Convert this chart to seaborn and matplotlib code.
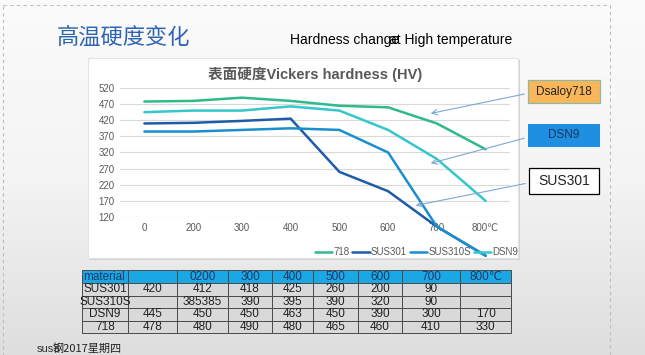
import numpy as np
import pandas as pd
import matplotlib
matplotlib.use("Agg")
import matplotlib.pyplot as plt
from matplotlib.colors import LinearSegmentedColormap
from matplotlib.patches import Rectangle
import seaborn as sns

# chart data
temps = ["0", "200", "300", "400", "500", "600", "700", "800℃"]
hv_718 = [478, 480, 490, 480, 465, 460, 410, 330]
hv_sus301 = [410, 412, 418, 425, 260, 200, 90, 0]
hv_sus310s = [385, 385, 390, 395, 390, 320, 90, 0]
hv_dsn9 = [445, 450, 450, 463, 450, 390, 300, 170]
series_names = ["718", "SUS301", "SUS310S", "DSN9"]
series_colors = ["#2fb98c", "#1f5ca8", "#1a8fcf", "#34c7cb"]

# table under the chart, as shown on the slide
table_header = ["material", "", "0200", "300", "400", "500", "600", "700", "800℃"]
table_rows = [
    ["SUS301", "420", "412", "418", "425", "260", "200", "90", ""],
    ["SUS310S", "", "385385", "390", "395", "390", "320", "90", ""],
    ["DSN9", "445", "450", "450", "463", "450", "390", "300", "170"],
    ["718", "478", "480", "490", "480", "465", "460", "410", "330"],
]
callout_labels = ["Dsaloy718", "DSN9", "SUS301"]

sns.set_style("white")
LATIN = ["Liberation Sans", "DejaVu Sans", "Noto Sans CJK SC"]
CJK = ["Noto Sans CJK SC", "DejaVu Sans"]
plt.rcParams["font.family"] = LATIN

W, H = 645, 355
fig = plt.figure(figsize=(W / 100, H / 100), dpi=100)

# background layer (pixel coordinates, y down)
bg = fig.add_axes([0, 0, 1, 1], zorder=0)
bg.set_xlim(0, W)
bg.set_ylim(H, 0)
bg.axis("off")
cmap = LinearSegmentedColormap.from_list("slide", ["#fbfbfb", "#f4f4f4", "#dedede"])
bg.imshow(np.linspace(0, 1, 256).reshape(-1, 1), cmap=cmap, aspect="auto",
          extent=(0, W, H, 0))
bg.add_patch(Rectangle((3, 5), 607, 360, fill=False, ec="#bdbdbd", lw=0.8, ls=(0, (3, 3))))
bg.add_patch(Rectangle((90, 60), 430, 200, fc="#d4d4d4", ec="none"))
bg.add_patch(Rectangle((88, 58), 430, 200, fc="white", ec="#e3e3e3", lw=0.8))

# line chart
df = pd.DataFrame({
    "temp": temps * 4,
    "hv": hv_718 + hv_sus301 + hv_sus310s + hv_dsn9,
    "material": np.repeat(series_names, len(temps)),
})
ax = fig.add_axes([120 / W, 1 - 217 / H, 390 / W, (217 - 88) / H], zorder=1)
ax.patch.set_alpha(0)
sns.lineplot(data=df, x="temp", y="hv", hue="material", hue_order=series_names,
             palette=dict(zip(series_names, series_colors)), sort=False,
             linewidth=1.8, ax=ax)
for line in ax.lines:
    line.set_clip_on(False)
ax.set_xlim(-0.5, len(temps) - 0.5)
ax.set_ylim(120, 520)
ax.set_yticks(range(120, 521, 50))
ax.set_xlabel("")
ax.set_ylabel("")
ax.grid(axis="y", color="#d9d9d9", lw=0.8)
ax.grid(axis="x", visible=False)
sns.despine(ax=ax, left=True, bottom=True)
ax.tick_params(length=0, labelsize=7, colors="#595959", pad=4)

handles, labels = ax.get_legend_handles_labels()
ax.legend(handles, labels, loc="center right", bbox_to_anchor=(518 / W, 1 - 252 / H),
          bbox_transform=fig.transFigure, ncol=4, frameon=False, fontsize=7,
          handlelength=1.8, handletextpad=0.1, columnspacing=0.3,
          labelcolor="#595959", borderaxespad=0, borderpad=0)

fig.text(315 / W, 1 - 74 / H, "表面硬度Vickers hardness (HV)", ha="center", va="center",
         fontsize=10.5, fontweight="bold", color="#595959", family=LATIN)

# overlay: titles, callouts, table
ov = fig.add_axes([0, 0, 1, 1], zorder=3)
ov.set_xlim(0, W)
ov.set_ylim(H, 0)
ov.axis("off")
ov.patch.set_alpha(0)

ov.text(57, 37, "高温硬度变化", fontsize=16, color="#2e64b0", va="center", family=CJK)
ov.text(290, 40, "Hardness change", fontsize=10, color="black", va="center")
ov.text(389, 40, "at High temperature", fontsize=10, color="black", va="center", ha="left")

box_specs = [
    ((528, 80, 72, 23), "#f9b75a", "#8fb9a3", "#222222", 8.5, (428, 114)),
    ((528, 124, 72, 23), "#1f8fe2", "none", "#17375e", 8.5, (428, 164)),
    ((529, 168, 70, 26), "white", "black", "#222222", 10, (413, 206)),
]
for label, (rect, fc, ec, tc, fs, tip) in zip(callout_labels, box_specs):
    x, y, w, h = rect
    ov.add_patch(Rectangle((x, y), w, h, fc=fc, ec=ec, lw=0.9))
    ov.text(x + w / 2, y + h / 2, label, ha="center", va="center", fontsize=fs, color=tc)
    ov.annotate("", xy=tip, xytext=(x - 1, y + h / 2 + 2),
                arrowprops=dict(arrowstyle="->", color="#7fa7d4", lw=0.8))

col_edges = [82, 128, 177, 228, 272, 313, 358, 402, 460, 511]
row_edges = [270, 283, 295.5, 308, 320.5, 333]
for r, row in enumerate([table_header] + table_rows):
    y0, y1 = row_edges[r], row_edges[r + 1]
    for c, val in enumerate(row):
        x0, x1 = col_edges[c], col_edges[c + 1]
        ov.add_patch(Rectangle((x0, y0), x1 - x0, y1 - y0,
                               fc="#1aa7e6" if r == 0 else "#d9d9d9",
                               ec="#4a4a4a", lw=0.7))
    for c, val in enumerate(row):
        if not val:
            continue
        x0, x1 = col_edges[c], col_edges[c + 1]
        if r == 0 and c == 0:
            ov.text(x0 + 1, (y0 + y1) / 2, val, ha="left", va="center",
                    fontsize=8.5, color="#1b3b66")
        else:
            ov.text((x0 + x1) / 2, (y0 + y1) / 2, val, ha="center", va="center",
                    fontsize=8.5, color="#1b3b66" if r == 0 else "#222222")

ov.text(37, 349, "sus3", fontsize=8, color="#333333", va="center")
ov.text(53, 349, "钢2017星期四", fontsize=8, color="#222222", va="center",
        style="italic", family=CJK)

fig.savefig("out.png", dpi=100)
